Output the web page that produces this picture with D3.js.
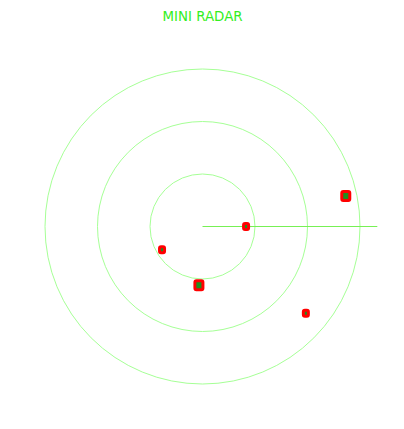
<!DOCTYPE html>
<html>
<head>
<meta charset="utf-8">
<script src="https://cdn.jsdelivr.net/npm/d3@7"></script>
<style>
  html, body { margin: 0; padding: 0; background: #fff; }
  svg { display: block; }
</style>
</head>
<body>
<svg id="chart" width="404" height="429"></svg>
<script>
// ---- data ----
const title = "MINI RADAR";
const rings = [1, 2, 3];
const sweepAngle = 0;          // degrees, clockwise from east
const sweepLength = 3.33;      // in ring units
const blipNames = ["A", "B", "C", "D", "E"];
const blipAngles = [-12, 0, 150, 93.5, 40];        // degrees, clockwise from east
const blipDistances = [2.79, 0.83, 0.89, 1.12, 2.57]; // in ring units
const blipSizes = ["big", "small", "small", "big", "small"];

// ---- layout ----
const svg = d3.select("#chart");
const cx = 202.5, cy = 226.5;
const r = d3.scaleLinear().domain([0, 3]).range([0, 157.5]);
const sizeScale = d3.scaleOrdinal().domain(["big", "small"]).range([[8, 9], [5, 6]]);

svg.append("text")
  .attr("x", 202.5).attr("y", 21)
  .attr("text-anchor", "middle")
  .attr("font-family", "DejaVu Sans, sans-serif")
  .attr("font-size", 13.4)
  .attr("fill", "#33ee22")
  .text(title);

const g = svg.append("g").attr("transform", `translate(${cx},${cy})`);

g.selectAll("circle.ring").data(rings).join("circle")
  .attr("class", "ring")
  .attr("r", d => r(d))
  .attr("fill", "none")
  .attr("stroke", "#a6ff96")
  .attr("stroke-width", 1);

const rad = a => a * Math.PI / 180;
g.append("line")
  .attr("x1", 0).attr("y1", 0)
  .attr("x2", r(sweepLength) * Math.cos(rad(sweepAngle)))
  .attr("y2", r(sweepLength) * Math.sin(rad(sweepAngle)))
  .attr("stroke", "#77f055")
  .attr("stroke-width", 1);

const blips = blipNames.map((n, i) => ({
  name: n, angle: blipAngles[i], dist: blipDistances[i], size: blipSizes[i]
}));

g.selectAll("rect.blip").data(blips).join("rect")
  .attr("class", "blip")
  .attr("x", d => r(d.dist) * Math.cos(rad(d.angle)) - sizeScale(d.size)[0] / 2)
  .attr("y", d => r(d.dist) * Math.sin(rad(d.angle)) - sizeScale(d.size)[1] / 2)
  .attr("width", d => sizeScale(d.size)[0])
  .attr("height", d => sizeScale(d.size)[1])
  .attr("rx", 1.5)
  .attr("fill", "#1f8f1f")
  .attr("stroke", "#ff0000")
  .attr("stroke-width", 3);
</script>
</body>
</html>
